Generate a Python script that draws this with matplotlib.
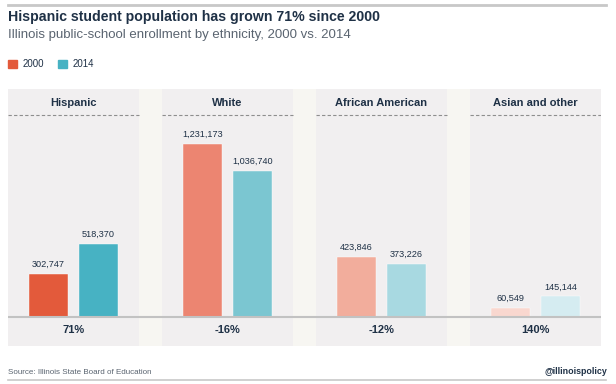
import matplotlib.pyplot as plt
from matplotlib.patches import Rectangle
from matplotlib.lines import Line2D

# data
categories = ['Hispanic', 'White', 'African American', 'Asian and other']
enroll_2000 = [302747, 1231173, 423846, 60549]
enroll_2014 = [518370, 1036740, 373226, 145144]
changes = ['71%', '-16%', '-12%', '140%']

# colours fade from category to category
colors_2000 = ['#e35a3b', '#ec8571', '#f2ad9c', '#f9d7cf']
colors_2014 = ['#47b2c3', '#7bc6d1', '#a8d9e1', '#d5ecf1']
NAVY = '#1f3146'
PANEL = '#f1eff0'
GAP = '#f7f6f2'

W, H = 616, 384
fig = plt.figure(figsize=(W / 100, H / 100), dpi=100)
plt.rcParams['font.family'] = ['Liberation Sans', 'DejaVu Sans']

def fx(px):
    return px / W

def fy(py):
    return 1 - py / H

# chart area in pixels
left, right, top, bottom = 8, 601, 89, 346
base_px = 316.7
ax = fig.add_axes([fx(left), fy(bottom), fx(right - left), (bottom - top) / H])
ax.set_facecolor(GAP)

per_px = 7120  # people per pixel
ymin = -(bottom - base_px) * per_px
ymax = (base_px - top) * per_px
ax.set_ylim(ymin, ymax)
half = 131 / 154 / 2
ax.set_xlim(-half, len(categories) - 1 + half)
ax.axis('off')
ax.add_patch(Rectangle((0, 0), 1, 1, transform=ax.transAxes, color=GAP, zorder=0))

bw = 39.5 / 154
off = 25 / 154
xt = ax.get_xaxis_transform()

def frac(py):
    return (bottom - py) / (bottom - top)

for i, cat in enumerate(categories):
    ax.axvspan(i - half, i + half, color=PANEL, zorder=1, lw=0)
    ax.text(i, frac(103), cat, transform=xt, ha='center', va='center',
            fontsize=8, fontweight='bold', color=NAVY, zorder=5)
    ax.plot([i - half, i + half], [frac(115), frac(115)], transform=xt,
            ls=(0, (3, 2)), color='#8e8e8e', lw=0.8, zorder=3)
    ax.text(i, frac(330), changes[i], transform=xt, ha='center', va='center',
            fontsize=8, fontweight='bold', color=NAVY, zorder=5)

    for x, v, c in [(i - off, enroll_2000[i], colors_2000[i]),
                    (i + off, enroll_2014[i], colors_2014[i])]:
        ax.bar(x, v, width=bw, color=c, zorder=4, edgecolor='white', linewidth=0.3)
        ax.text(x, v + 5 * per_px, f'{v:,}', ha='center', va='bottom',
                fontsize=6.6, color=NAVY, zorder=5)

ax.axhline(0, color='#c2c2c2', lw=1.5, zorder=4)

# top and bottom rules
fig.add_artist(Line2D([fx(8), fx(606)], [fy(5), fy(5)], color='#c8c8c8', lw=2))
fig.add_artist(Line2D([fx(8), fx(606)], [fy(380), fy(380)], color='#c8c8c8', lw=1.2))

# titles
fig.text(fx(8), fy(17), 'Hispanic student population has grown 71% since 2000',
         fontsize=10.2, fontweight='bold', color=NAVY, va='center', ha='left')
fig.text(fx(8), fy(35), 'Illinois public-school enrollment by ethnicity, 2000 vs. 2014',
         fontsize=9.5, color='#5a6470', va='center', ha='left')

# legend
fig.add_artist(Rectangle((fx(8.3), fy(68)), fx(8.4), 8 / H, color=colors_2000[0]))
fig.text(fx(22.5), fy(64), '2000', fontsize=7, color=NAVY, va='center', ha='left')
fig.add_artist(Rectangle((fx(58.3), fy(68)), fx(8.4), 8 / H, color=colors_2014[0]))
fig.text(fx(73), fy(64), '2014', fontsize=7, color=NAVY, va='center', ha='left')

# footer
fig.text(fx(8), fy(372), 'Source: Illinois State Board of Education',
         fontsize=5.8, color='#5a6470', va='center', ha='left')
fig.text(fx(607), fy(372), '@illinoispolicy', fontsize=6.4, fontweight='bold',
         color=NAVY, va='center', ha='right')

fig.savefig('out.png', dpi=100, facecolor='white')
